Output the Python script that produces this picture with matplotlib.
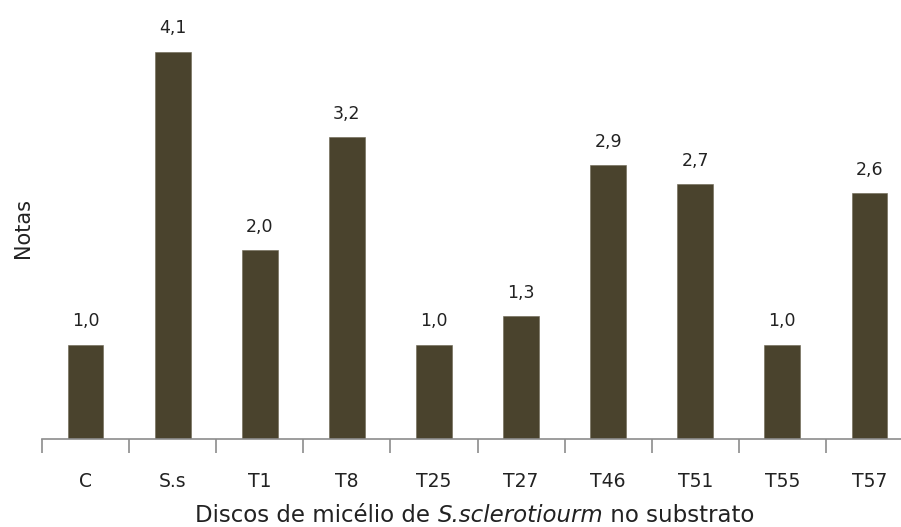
import matplotlib
matplotlib.use("Agg")
import matplotlib.pyplot as plt

categories = ["C", "S.s", "T1", "T8", "T25", "T27", "T46", "T51", "T55", "T57"]
notas = [1.0, 4.1, 2.0, 3.2, 1.0, 1.3, 2.9, 2.7, 1.0, 2.6]

W, H = 901, 527
fig = plt.figure(figsize=(W / 100, H / 100), dpi=100)
px_per_unit = 94.5
ymax = 4.5
left, bottom = 42, 88
width = 871
height = ymax * px_per_unit
ax = fig.add_axes([left / W, bottom / H, width / W, height / H])

bar_color = "#4a432d"
text_color = "#222222"
x = list(range(len(categories)))
ax.bar(x, notas, width=0.41, color=bar_color, edgecolor="#6b6552", linewidth=0.4, zorder=2)

for xi, v in zip(x, notas):
    ax.annotate(f"{v:.1f}".replace(".", ","), (xi, v), xytext=(0, 13),
                textcoords="offset points", ha="center", va="baseline",
                fontsize=12.5, family="DejaVu Sans", color=text_color)

ax.set_xlim(-0.5, len(categories) - 0.5)
ax.set_ylim(0, ymax)

for s in ["top", "right", "left"]:
    ax.spines[s].set_visible(False)
ax.spines["bottom"].set_color("#8c8c8c")
ax.spines["bottom"].set_linewidth(1.2)
ax.set_yticks([])

# boundary tick marks between categories, labels centred on bars
ax.set_xticks([i - 0.5 for i in range(len(categories) + 1)])
ax.set_xticklabels([])
ax.tick_params(axis="x", which="major", length=10, width=1.2, color="#8c8c8c", direction="out")
ax.set_xticks(x, minor=True)
ax.set_xticklabels(categories, minor=True, fontsize=13.5, family="DejaVu Sans", color=text_color)
ax.tick_params(axis="x", which="minor", length=0, pad=24)

# x-axis title with the species name in italics, laid out piece by piece
pieces = [("Discos de micélio de ", "normal"),
          ("S.sclerotiourm", "italic"),
          (" no substrato", "normal")]
fig.canvas.draw()
renderer = fig.canvas.get_renderer()
texts = []
for s, style in pieces:
    t = fig.text(0, 1 - 522 / H, s, ha="left", va="baseline", fontsize=16.5,
                 family="DejaVu Sans", style=style, color=text_color)
    texts.append(t)
widths = [t.get_window_extent(renderer).width for t in texts]
xpos = 475 - sum(widths) / 2
for t, w in zip(texts, widths):
    t.set_x(xpos / W)
    xpos += w

fig.text(23 / W, 1 - 228 / H, "Notas", rotation=90, ha="center", va="center",
         fontsize=15, family="DejaVu Sans", color=text_color)

fig.savefig("out.png", dpi=100, facecolor="white")
